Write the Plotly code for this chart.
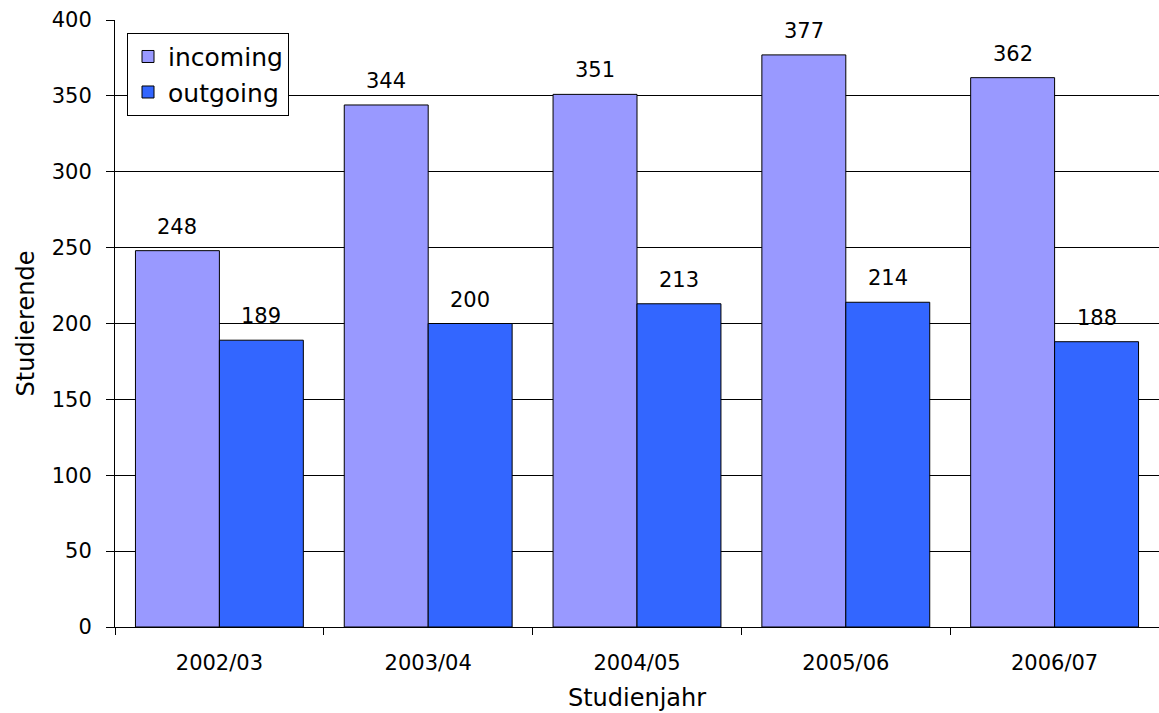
import plotly.graph_objects as go

years = ["2002/03", "2003/04", "2004/05", "2005/06", "2006/07"]
incoming = [248, 344, 351, 377, 362]
outgoing = [189, 200, 213, 214, 188]
y_ticks = [0, 50, 100, 150, 200, 250, 300, 350, 400]

FONT = "DejaVu Sans"

fig = go.Figure()
fig.add_trace(go.Bar(
    name="incoming", x=years, y=incoming,
    marker=dict(color="#9999FF", line=dict(color="#000000", width=1)),
))
fig.add_trace(go.Bar(
    name="outgoing", x=years, y=outgoing,
    marker=dict(color="#3366FF", line=dict(color="#000000", width=1)),
))

# value labels above each bar (bars offset left/right inside each group)
for series, shift in ((incoming, -42), (outgoing, 42)):
    for yr, v in zip(years, series):
        fig.add_annotation(
            x=yr, y=v, text=str(v), showarrow=False,
            xshift=shift, yshift=10, yanchor="bottom",
            font=dict(family=FONT, size=21, color="#000000"),
        )

fig.update_layout(
    width=1159, height=713,
    margin=dict(l=115, r=0, t=20, b=86),
    paper_bgcolor="white", plot_bgcolor="white",
    barmode="group", bargap=0.196, bargroupgap=0,
    font=dict(family=FONT, size=21, color="#000000"),
    showlegend=True,
    legend=dict(
        x=0.0115, y=0.979, xanchor="left", yanchor="top",
        bgcolor="white", bordercolor="#000000", borderwidth=1,
        font=dict(family=FONT, size=25, color="#000000"),
        tracegroupgap=0, itemwidth=30,
    ),
    xaxis=dict(
        type="category", tickson="boundaries",
        ticks="outside", ticklen=7, tickcolor="#000000", tickwidth=1,
        showline=True, linecolor="#000000", linewidth=1,
        showgrid=False,
        tickfont=dict(family=FONT, size=21),
        ticklabelstandoff=17,
        title=dict(text="Studienjahr", font=dict(family=FONT, size=24), standoff=14),
    ),
    yaxis=dict(
        range=[0, 400], tickvals=y_ticks,
        ticks="outside", ticklen=8, tickcolor="#000000", tickwidth=1,
        showline=True, linecolor="#000000", linewidth=1,
        showgrid=True, gridcolor="#000000", gridwidth=1,
        zeroline=False,
        tickfont=dict(family=FONT, size=21),
        ticklabelstandoff=10,
        title=dict(text="Studierende", font=dict(family=FONT, size=24), standoff=10),
    ),
)

fig.write_html("out.html")
